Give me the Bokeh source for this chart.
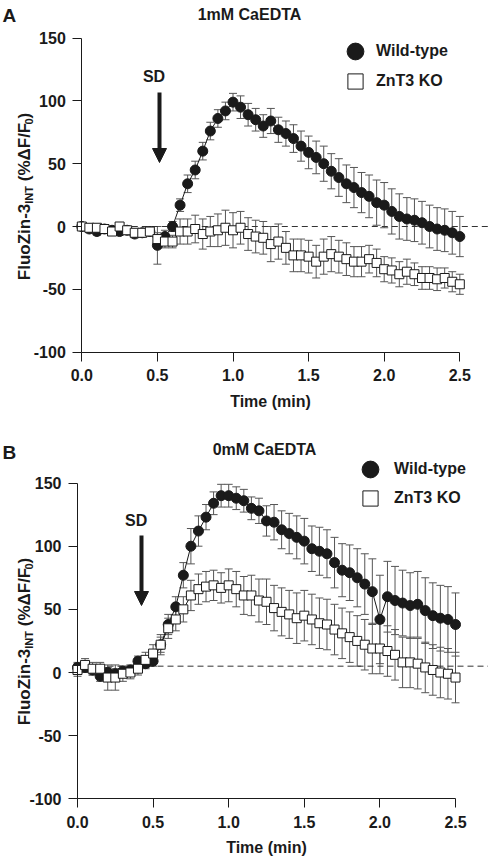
import numpy as np
from bokeh.plotting import figure
from bokeh.layouts import column
from bokeh.models import (ColumnDataSource, Whisker, TeeHead, Arrow, NormalHead,
                          Label, Legend, LegendItem, Range1d, FixedTicker, PrintfTickFormatter)
from bokeh.embed import file_html
from bokeh.resources import INLINE

# ---------------- data ----------------
time_min = [0.00, 0.05, 0.10, 0.15, 0.20, 0.25, 0.30, 0.35, 0.40, 0.45,
            0.50, 0.55, 0.60, 0.65, 0.70, 0.75, 0.80, 0.85, 0.90, 0.95,
            1.00, 1.05, 1.10, 1.15, 1.20, 1.25, 1.30, 1.35, 1.40, 1.45,
            1.50, 1.55, 1.60, 1.65, 1.70, 1.75, 1.80, 1.85, 1.90, 1.95,
            2.00, 2.05, 2.10, 2.15, 2.20, 2.25, 2.30, 2.35, 2.40, 2.45, 2.50]

# Panel A: 1mM CaEDTA
a_wt = [0, -2, -4, -2, -3, -4, -3, -6, -5, -4,
        -15, -8, 0, 17, 34, 45, 60, 76, 86, 92,
        99, 95, 89, 85, 80, 84, 77, 74, 70, 64,
        59, 55, 50, 44, 39, 34, 31, 27, 24, 19,
        17, 12, 8, 6, 5, 3, 0, -2, -3, -5, -8]
a_wt_err = [3, 3, 3, 3, 3, 3, 3, 3, 3, 3,
            15, 5, 4, 5, 7, 7, 7, 7, 7, 7,
            7, 9, 9, 9, 9, 10, 10, 10, 11, 12,
            13, 13, 14, 14, 15, 15, 16, 16, 17, 18,
            18, 18, 18, 17, 17, 17, 17, 17, 17, 17, 16]
a_ko = [0, -1, -1, -2, -4, 0, -3, -5, -5, -4,
        -10, -12, -12, -4, -4, -2, -6, -4, -3, -1,
        -3, -1, -6, -8, -9, -14, -12, -17, -23, -23,
        -24, -28, -24, -22, -24, -26, -28, -28, -26, -29,
        -34, -35, -38, -36, -38, -41, -41, -42, -41, -44, -46]
a_ko_err = [3, 3, 3, 3, 3, 3, 3, 3, 3, 3,
            5, 5, 5, 10, 10, 11, 12, 12, 13, 14,
            14, 13, 13, 13, 13, 14, 14, 13, 13, 13,
            13, 13, 14, 14, 13, 13, 12, 12, 11, 11,
            10, 10, 10, 10, 9, 9, 9, 9, 8, 8, 8]

# Panel B: 0mM CaEDTA
b_wt = [4, 4, 2, -3, 0, -1, 1, 2, 9, 7,
        9, 22, 38, 52, 77, 100, 112, 123, 134, 140,
        140, 138, 136, 130, 128, 120, 119, 113, 110, 107,
        104, 98, 96, 94, 87, 81, 79, 75, 70, 64,
        42, 60, 57, 55, 53, 54, 49, 45, 43, 42, 38]
b_wt_err = [4, 4, 4, 4, 4, 4, 4, 4, 4, 4,
            4, 6, 8, 8, 10, 14, 12, 10, 9, 9,
            9, 9, 9, 9, 10, 12, 14, 15, 16, 17,
            18, 18, 19, 19, 20, 21, 22, 23, 24, 26,
            35, 28, 27, 26, 26, 26, 26, 26, 26, 26, 25]
b_ko = [2, 6, 3, 3, -4, -4, -1, 0, 3, 10,
        15, 22, 35, 42, 50, 61, 66, 68, 69, 67,
        69, 66, 61, 61, 57, 56, 51, 48, 46, 43,
        45, 42, 39, 38, 34, 31, 28, 25, 22, 19,
        19, 17, 14, 8, 8, 7, 4, 2, 0, -1, -4]
b_ko_err = [5, 5, 5, 5, 10, 10, 6, 5, 5, 6,
            7, 8, 8, 9, 10, 12, 12, 12, 12, 12,
            13, 14, 15, 16, 17, 18, 18, 19, 19, 20,
            20, 20, 20, 20, 20, 20, 20, 20, 20, 20,
            20, 20, 20, 20, 20, 20, 20, 20, 20, 20, 20]

x_ticks = [0.0, 0.5, 1.0, 1.5, 2.0, 2.5]
y_ticks = [-100, -50, 0, 50, 100, 150]
panel_titles = ["1mM CaEDTA", "0mM CaEDTA"]
panel_letters = ["A", "B"]
series_names = ["Wild-type", "ZnT3 KO"]
x_label = "Time (min)"
baseline_levels = [0, 5]
sd_label = "SD"

FONT = "Liberation Sans"
INK = "#1a1a1a"
BAR = "#555555"
W = 488

# character widths (Arial/Liberation Sans Bold, per 1000 em) for composing the y label
CW = {'F': 611, 'l': 278, 'u': 611, 'o': 611, 'Z': 611, 'i': 278, 'n': 611, '-': 333,
      '3': 556, 'I': 278, 'N': 722, 'T': 611, ' ': 278, '(': 333, '%': 889,
      'Δ': 612, '/': 278, '0': 556, ')': 333}


def tw(s, size):
    return sum(CW[c] for c in s) * size / 1000.0


def build(cfg):
    H = cfg["height"]
    top = cfg["page_top"]
    x0, sx, y0, sy = cfg["x0"], cfg["sx"], cfg["y0"], cfg["sy"]

    def d(px, py):
        return ((px - x0) / sx, (y0 - py) / sy)

    xr = Range1d((0 - x0) / sx, (W - x0) / sx)
    yr = Range1d((y0 - (top + H)) / sy, (y0 - top) / sy)

    p = figure(width=W, height=H, x_range=xr, y_range=yr, output_backend="svg",
               toolbar_location=None, title_location=None,
               min_border_left=0, min_border_right=0,
               min_border_top=0, min_border_bottom=0)
    p.outline_line_color = None
    p.xgrid.visible = False
    p.ygrid.visible = False
    p.background_fill_color = "white"
    p.border_fill_color = "white"

    for ax in (p.xaxis[0], p.yaxis[0]):
        ax.axis_line_color = INK
        ax.axis_line_width = 1
        ax.major_tick_line_color = INK
        ax.minor_tick_line_color = None
        ax.major_tick_out = 9
        ax.major_tick_in = 0
        ax.major_label_text_font = FONT
        ax.major_label_text_font_style = "bold"
        ax.major_label_text_font_size = "16px"
        ax.major_label_text_color = INK
    p.xaxis.ticker = FixedTicker(ticks=x_ticks)
    p.xaxis.formatter = PrintfTickFormatter(format="%.1f")
    p.yaxis.ticker = FixedTicker(ticks=y_ticks)
    p.yaxis.formatter = PrintfTickFormatter(format="%d")
    p.xaxis.bounds = (x_ticks[0], x_ticks[-1])
    p.yaxis.bounds = (y_ticks[0], y_ticks[-1])
    p.yaxis.fixed_location = x_ticks[0]
    p.xaxis.fixed_location = y_ticks[0]
    p.xaxis.major_label_standoff = cfg["x_standoff"]
    p.yaxis.major_label_standoff = 7
    p.xaxis.axis_label = x_label
    p.xaxis.axis_label_text_font = FONT
    p.xaxis.axis_label_text_font_style = "bold"
    p.xaxis.axis_label_text_font_size = "16px"
    p.xaxis.axis_label_text_color = INK
    p.xaxis.axis_label_standoff = cfg["label_standoff"]

    wt, wte, ko, koe = cfg["wt"], cfg["wt_err"], cfg["ko"], cfg["ko_err"]
    src = ColumnDataSource(dict(
        t=time_min, wt=wt, ko=ko,
        wt_lo=np.array(wt) - np.array(wte), wt_hi=np.array(wt) + np.array(wte),
        ko_lo=np.array(ko) - np.array(koe), ko_hi=np.array(ko) + np.array(koe)))

    # dashed baseline from the y axis to the right edge
    bx0, _ = d(x0, 0)
    bx1, _ = d(W, 0)
    p.segment(x0=[bx0], y0=[cfg["baseline"]], x1=[bx1], y1=[cfg["baseline"]],
              line_color="#333333", line_width=1, line_dash="6 4")

    for lo, hi in (("wt_lo", "wt_hi"), ("ko_lo", "ko_hi")):
        wk = Whisker(base="t", lower=lo, upper=hi, source=src, dimension="height",
                     line_color=BAR, line_width=1, level="underlay",
                     upper_head=TeeHead(size=8, line_color=BAR, line_width=1),
                     lower_head=TeeHead(size=8, line_color=BAR, line_width=1))
        p.add_layout(wk)

    p.line("t", "wt", source=src, line_color=INK, line_width=1)
    wt_r = p.scatter("t", "wt", source=src, marker="circle", size=10,
                     fill_color=INK, line_color=INK)
    p.line("t", "ko", source=src, line_color=INK, line_width=1)
    ko_r = p.scatter("t", "ko", source=src, marker="square", size=9,
                     fill_color="white", line_color=INK, line_width=1)

    # legends (one item each, so the keys can be as large as in the reference)
    canvas_bottom = top + H
    for rend, name, (cx, cy), g, stand in ((wt_r, series_names[0], cfg["leg_wt"], 42, cfg["leg_gap"]),
                                           (ko_r, series_names[1], cfg["leg_ko"], 38, cfg["leg_gap"] + 2)):
        lg = Legend(items=[LegendItem(label=name, renderers=[rend])],
                    location=(cx - g / 2, canvas_bottom - (cy + g / 2)),
                    glyph_width=g, glyph_height=g, label_standoff=stand,
                    padding=0, margin=0, spacing=0, border_line_color=None,
                    background_fill_alpha=0, label_text_font=FONT,
                    label_text_font_style="bold", label_text_font_size="16px",
                    label_text_color=INK, label_text_baseline="middle")
        p.add_layout(lg)

    # SD arrow
    ax_, ay_top = d(cfg["arrow_x"], cfg["arrow_top"])
    _, ay_tip = d(cfg["arrow_x"], cfg["arrow_tip"])
    p.add_layout(Arrow(end=NormalHead(size=14, fill_color=INK, line_color=INK),
                       x_start=ax_, y_start=ay_top, x_end=ax_, y_end=ay_tip,
                       line_width=4, line_color=INK))
    sx_, sy_ = d(*cfg["sd_pos"])
    p.add_layout(Label(x=sx_, y=sy_, text=sd_label, text_align="center",
                       text_baseline="middle", text_font=FONT, text_font_style="bold",
                       text_font_size="16px", text_color=INK))

    # title and panel letter
    tx, ty = d(*cfg["title_pos"])
    p.add_layout(Label(x=tx, y=ty, text=cfg["title"], text_align="center",
                       text_baseline="alphabetic", text_font=FONT, text_font_style="bold",
                       text_font_size="16px", text_color=INK))
    lx, ly = d(*cfg["letter_pos"])
    p.add_layout(Label(x=lx, y=ly, text=cfg["letter"], text_align="left",
                       text_baseline="alphabetic", text_font=FONT, text_font_style="bold",
                       text_font_size="19px", text_color=INK))

    # rotated y-axis label with subscripts: (text, font px, subscript?, gap before)
    fs, fsub = 17, 11
    pieces = [("FluoZin-3", fs, False, 0.0), ("INT", fsub, True, 0.0),
              ("(%ΔF/F", fs, False, tw(" ", fs)), ("0", fsub, True, 0.0),
              (")", fs, False, 0.0)]
    total = sum(tw(s, f) + g for s, f, _, g in pieces)
    base_x, cy = cfg["ylab"]
    ypos = cy + total / 2
    for s, f, sub, gap in pieces:
        ypos -= gap
        px = base_x + (4 if sub else 0)
        lx_, ly_ = d(px, ypos)
        p.add_layout(Label(x=lx_, y=ly_, text=s, angle=np.pi / 2, angle_units="rad",
                           text_align="left", text_baseline="alphabetic",
                           text_font=FONT, text_font_style="bold",
                           text_font_size=f"{f}px", text_color=INK))
        ypos -= tw(s, f)
    return p


cfg_a = dict(height=420, page_top=0, x0=81.3, sx=151.2, y0=226.0, sy=1.256,
             x_standoff=8, label_standoff=8,
             wt=a_wt, wt_err=a_wt_err, ko=a_ko, ko_err=a_ko_err,
             baseline=baseline_levels[0], title=panel_titles[0], letter=panel_letters[0],
             leg_wt=(355, 51), leg_ko=(355, 81), leg_gap=0,
             arrow_x=159, arrow_top=92, arrow_tip=162, sd_pos=(153.5, 76),
             title_pos=(249, 13.5), letter_pos=(2, 15), ylab=(24, 196))
cfg_b = dict(height=439, page_top=420, x0=77.0, sx=151.2, y0=672.0, sy=1.263,
             x_standoff=8, label_standoff=8,
             wt=b_wt, wt_err=b_wt_err, ko=b_ko, ko_err=b_ko_err,
             baseline=baseline_levels[1], title=panel_titles[1], letter=panel_letters[1],
             leg_wt=(370, 469), leg_ko=(370, 498), leg_gap=3,
             arrow_x=141, arrow_top=535, arrow_tip=605, sd_pos=(135.7, 519.6),
             title_pos=(264, 449), letter_pos=(2, 452), ylab=(24, 641))

pa = build(cfg_a)
pb = build(cfg_b)
layout = column(pa, pb, spacing=0)

open("out.html", "w").write(file_html(layout, INLINE))
